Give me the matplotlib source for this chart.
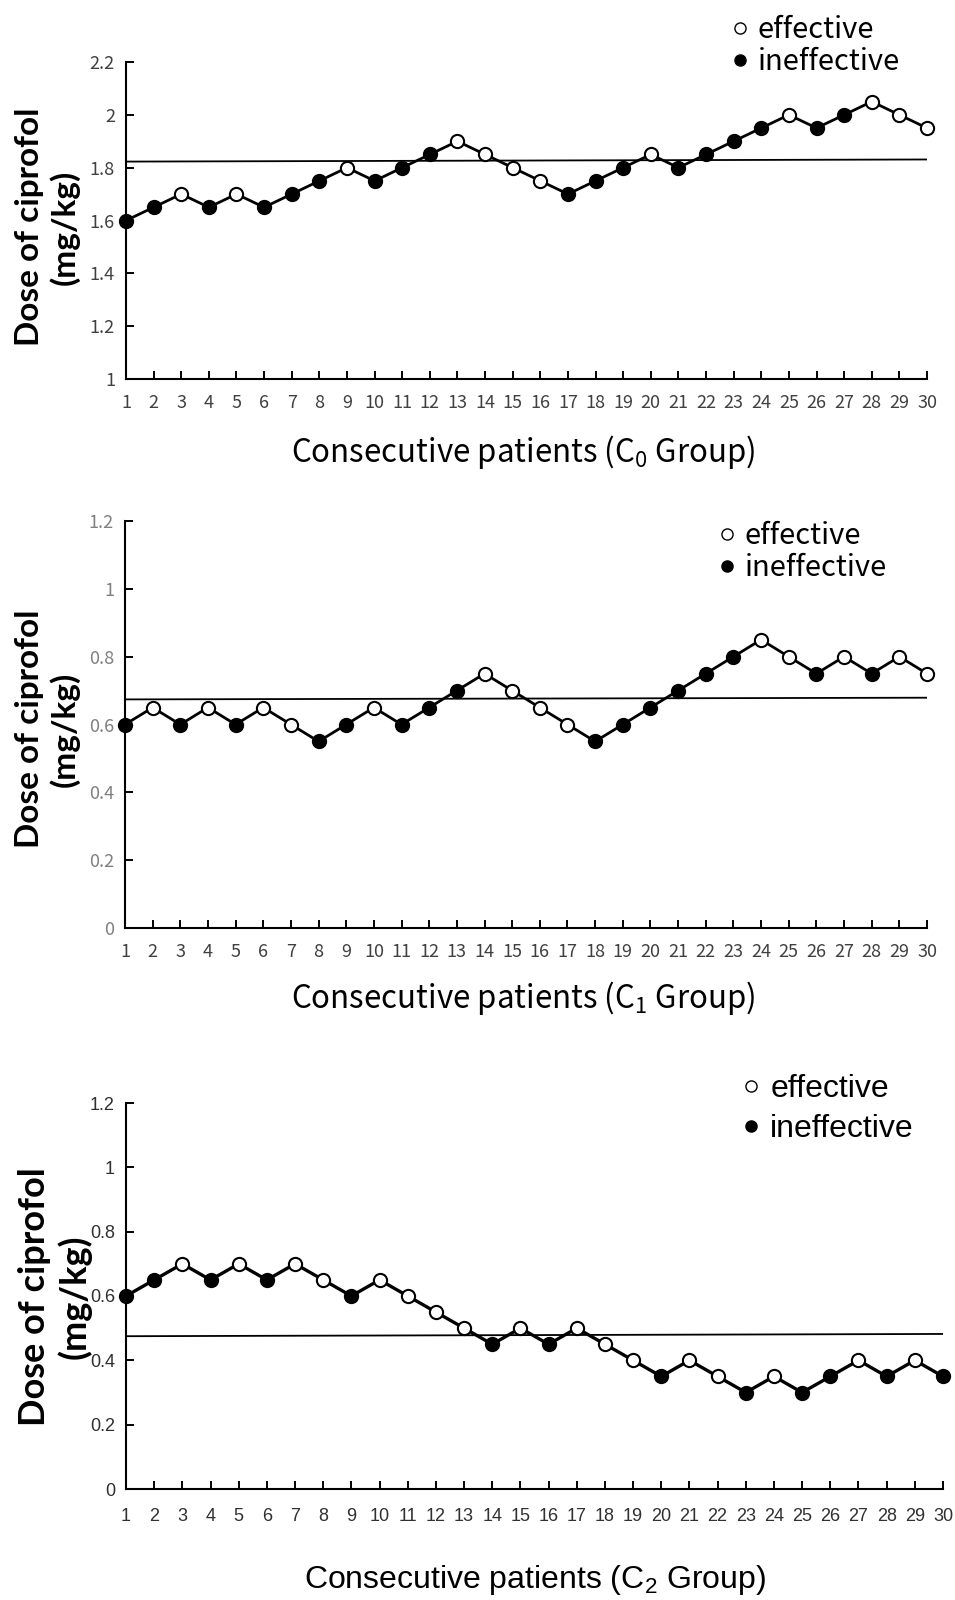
import numpy as np
import matplotlib
matplotlib.use("Agg")
import matplotlib.pyplot as plt
from matplotlib.lines import Line2D

# ---- data ----
patients = list(range(1, 31))

dose_c0 = [1.60, 1.65, 1.70, 1.65, 1.70, 1.65, 1.70, 1.75, 1.80, 1.75,
           1.80, 1.85, 1.90, 1.85, 1.80, 1.75, 1.70, 1.75, 1.80, 1.85,
           1.80, 1.85, 1.90, 1.95, 2.00, 1.95, 2.00, 2.05, 2.00, 1.95]
# 1 = effective (open circle), 0 = ineffective (filled)
eff_c0 = [0, 0, 1, 0, 1, 0, 0, 0, 1, 0,
          0, 0, 1, 1, 1, 1, 0, 0, 0, 1,
          0, 0, 0, 0, 1, 0, 0, 1, 1, 1]
ref_c0 = [1.823, 1.831]

dose_c1 = [0.60, 0.65, 0.60, 0.65, 0.60, 0.65, 0.60, 0.55, 0.60, 0.65,
           0.60, 0.65, 0.70, 0.75, 0.70, 0.65, 0.60, 0.55, 0.60, 0.65,
           0.70, 0.75, 0.80, 0.85, 0.80, 0.75, 0.80, 0.75, 0.80, 0.75]
eff_c1 = [0, 1, 0, 1, 0, 1, 1, 0, 0, 1,
          0, 0, 0, 1, 1, 1, 1, 0, 0, 0,
          0, 0, 0, 1, 1, 0, 1, 0, 1, 1]
ref_c1 = [0.674, 0.679]

dose_c2 = [0.60, 0.65, 0.70, 0.65, 0.70, 0.65, 0.70, 0.65, 0.60, 0.65,
           0.60, 0.55, 0.50, 0.45, 0.50, 0.45, 0.50, 0.45, 0.40, 0.35,
           0.40, 0.35, 0.30, 0.35, 0.30, 0.35, 0.40, 0.35, 0.40, 0.35]
eff_c2 = [0, 0, 1, 0, 1, 0, 1, 1, 0, 1,
          1, 1, 1, 0, 1, 0, 1, 1, 1, 0,
          1, 1, 0, 1, 0, 0, 1, 0, 1, 0]
ref_c2 = [0.475, 0.482]

W, H = 955, 1600
DPI = 100

panels = [
    dict(dose=dose_c0, eff=eff_c0, ref=ref_c0, sub="0",
         ylim=(1.0, 2.2), yticks=[1, 1.2, 1.4, 1.6, 1.8, 2, 2.2],
         ylabels=["1", "1.2", "1.4", "1.6", "1.8", "2", "2.2"],
         box=(126, 927, 62, 379), xlab=(523, 452), ylab=(47, 227), ylab_size=24,
         leg=(733, 46), font="Noto Sans CJK SC", tick_color="#404040",
         ytick_color="#404040", lw=2.0, lab_size=22.5, leg_size=21,
         leg_gap=0.05, xpad=11),
    dict(dose=dose_c1, eff=eff_c1, ref=ref_c1, sub="1",
         ylim=(0, 1.2), yticks=[0, 0.2, 0.4, 0.6, 0.8, 1, 1.2],
         ylabels=["0", "0.2", "0.4", "0.6", "0.8", "1", "1.2"],
         box=(125, 927, 521, 928), xlab=(523, 998), ylab=(47, 729), ylab_size=24,
         leg=(720, 552), font="Noto Sans CJK SC", tick_color="#404040",
         ytick_color="#808080", lw=2.0, lab_size=22.5, leg_size=21,
         leg_gap=0.05, xpad=11),
    dict(dose=dose_c2, eff=eff_c2, ref=ref_c2, sub="2",
         ylim=(0, 1.2), yticks=[0, 0.2, 0.4, 0.6, 0.8, 1, 1.2],
         ylabels=["0", "0.2", "0.4", "0.6", "0.8", "1", "1.2"],
         box=(126, 943, 1103, 1489), xlab=(535, 1580), ylab=(55, 1297), ylab_size=26,
         leg=(743, 1109), font="Liberation Sans", tick_color="#303030",
         ytick_color="#303030", lw=2.4, lab_size=23, leg_size=23,
         leg_gap=0.32, xpad=14),
]

fig = plt.figure(figsize=(W / DPI, H / DPI), dpi=DPI)

for p in panels:
    l, r, t, b = p["box"]
    ax = fig.add_axes([l / W, 1 - b / H, (r - l) / W, (b - t) / H])
    fam = [p["font"], "DejaVu Sans"]

    x = np.array(patients)
    y = np.array(p["dose"])
    e = np.array(p["eff"]) == 1

    ax.plot(x, y, color="black", lw=p["lw"], zorder=3, clip_on=False)
    ax.plot(x[e], y[e], "o", ls="none", ms=9.5, mfc="white", mec="black",
            mew=1.5, zorder=4, clip_on=False)
    ax.plot(x[~e], y[~e], "o", ls="none", ms=9.5, mfc="black", mec="black",
            mew=1.5, zorder=4, clip_on=False)
    ax.plot([patients[0], patients[-1]], p["ref"], color="black", lw=1.3, zorder=2)

    ax.set_xlim(1, 30)
    ax.set_ylim(*p["ylim"])
    ax.set_xticks(patients)
    ax.set_xticklabels([str(i) for i in patients], fontfamily=fam, fontsize=13,
                       color=p["tick_color"])
    ax.set_yticks(p["yticks"])
    ax.set_yticklabels(p["ylabels"], fontfamily=fam, fontsize=13,
                       color=p["ytick_color"])
    ax.tick_params(axis="both", direction="in", length=6, width=1.4)
    ax.tick_params(axis="x", pad=p["xpad"])
    ax.tick_params(axis="y", pad=8)
    for s in ("top", "right"):
        ax.spines[s].set_visible(False)
    for s in ("left", "bottom"):
        ax.spines[s].set_linewidth(1.5)

    fig.text(p["xlab"][0] / W, 1 - p["xlab"][1] / H,
             r"Consecutive patients (C$\mathregular{_%s}$ Group)" % p["sub"],
             ha="center", va="center", fontsize=p["lab_size"], fontfamily=fam)
    fig.text(p["ylab"][0] / W, 1 - p["ylab"][1] / H, "Dose of ciprofol\n(mg/kg)",
             rotation=90, ha="center", va="center", fontsize=p["ylab_size"],
             fontweight="bold", fontfamily=["Lato", "DejaVu Sans"], linespacing=1.2)

    handles = [
        Line2D([], [], marker="o", ls="none", ms=8, mfc="white", mec="black", mew=1.0),
        Line2D([], [], marker="o", ls="none", ms=8, mfc="black", mec="black"),
    ]
    ax.legend(handles, ["effective", "ineffective"], loc="center left",
              bbox_to_anchor=(p["leg"][0] / W, 1 - p["leg"][1] / H),
              bbox_transform=fig.transFigure, frameon=False, borderpad=0,
              borderaxespad=0, handlelength=0.5, handletextpad=0.35,
              labelspacing=p["leg_gap"], prop=dict(family=fam, size=p["leg_size"]))

fig.savefig("out.png", dpi=DPI)
